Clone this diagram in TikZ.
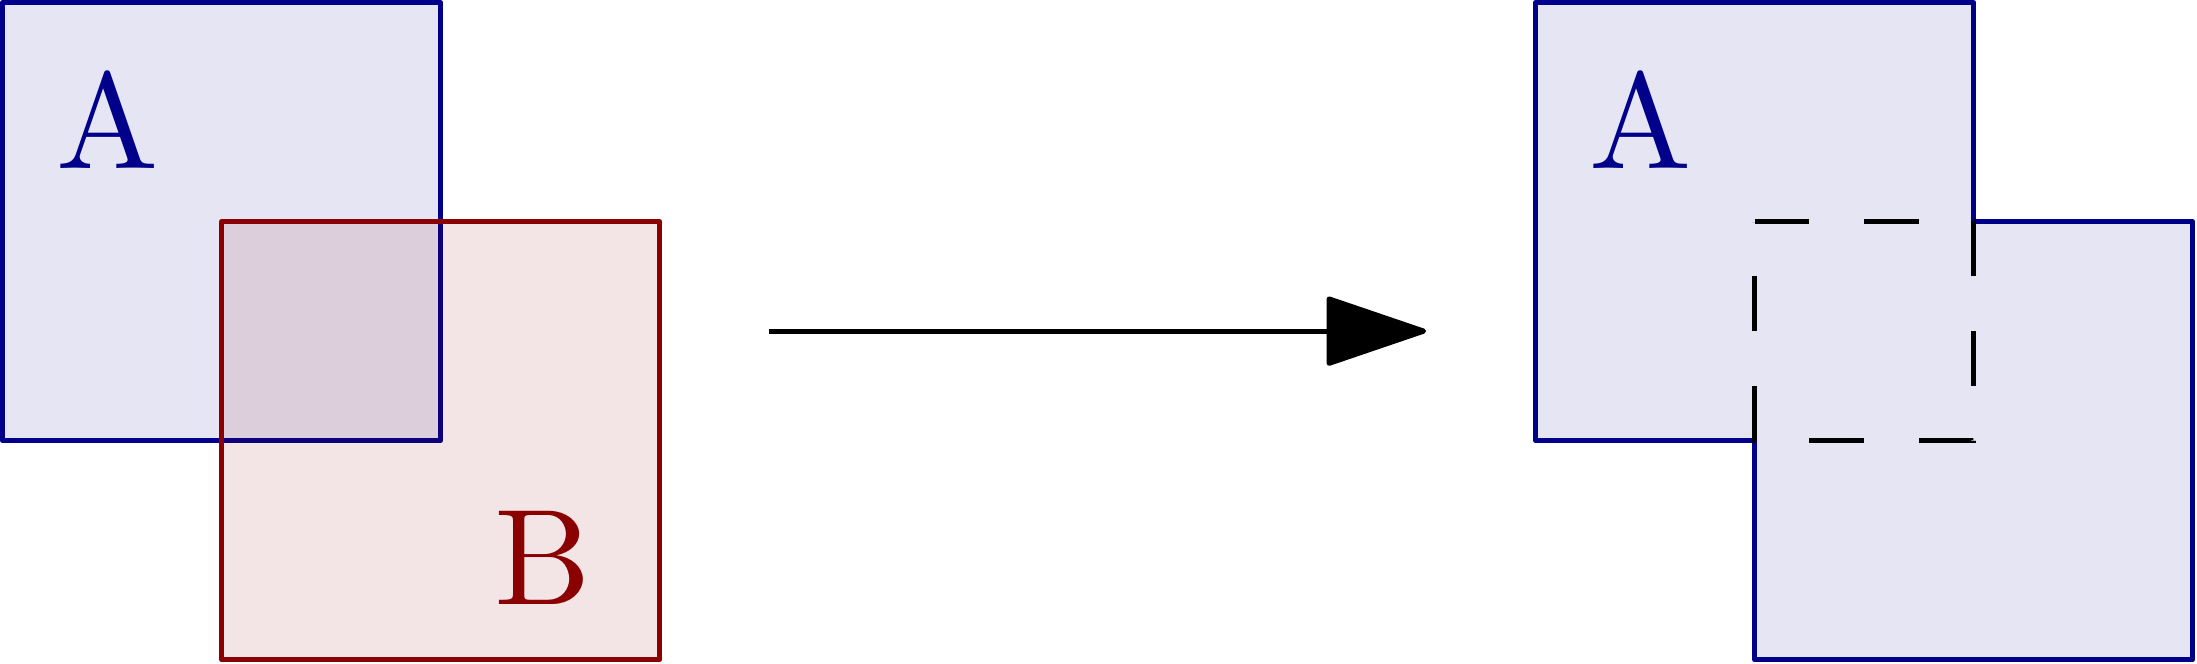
\documentclass[tikz,border=0pt]{standalone}
\usepackage{amsmath}
\usepackage{tikz}
\usetikzlibrary{positioning}
\usetikzlibrary{arrows.meta}

\definecolor{azul}{RGB}{0,0,139}
\definecolor{rojo}{RGB}{139,0,0}

\begin{document}
\begin{tikzpicture}[line width=1pt, every node/.style={font=\normalsize, scale=2.66}]
            \useasboundingbox (-0.018,-1.524) rectangle (15.03,3.018);
            % Conjuntos
            \filldraw[draw=azul, fill=azul, fill opacity=0.1, line join=round] (0,0) rectangle (3,3);
            \filldraw[draw=rojo, fill=rojo, fill opacity=0.1, line join=round] (1.5,-1.5) rectangle (4.5,1.5);
            \filldraw[draw=azul, fill=azul, fill opacity=0.1, line join=round] (10.5,3) -- (13.5,3) -- (13.5,1.5) -- (15,1.5) -- (15,-1.5) -- (12,-1.5) -- (12,0) -- (10.5,0) -- cycle;
            \draw[black, dash pattern=on 0.375cm off 0.375cm] (12,1.5) -- (13.5,1.5) -- (13.5,0) -- (12,0) -- cycle;

            % Nodos
            \node[text=azul] (a) at (0.72,2.2) {A};
            \node[text=rojo] (b) at (3.7,-0.8) {B};
            \node[text=azul] (a2) at (11.22,2.2) {A};
            \coordinate (ini) at (5.25,0.75);
            \coordinate (fin) at (9.75,0.75);

            % Flecha
            \draw[-{Triangle[length=0.72cm, width=0.48cm, round]}] (ini) -- (fin);
          \end{tikzpicture}
\end{document}
